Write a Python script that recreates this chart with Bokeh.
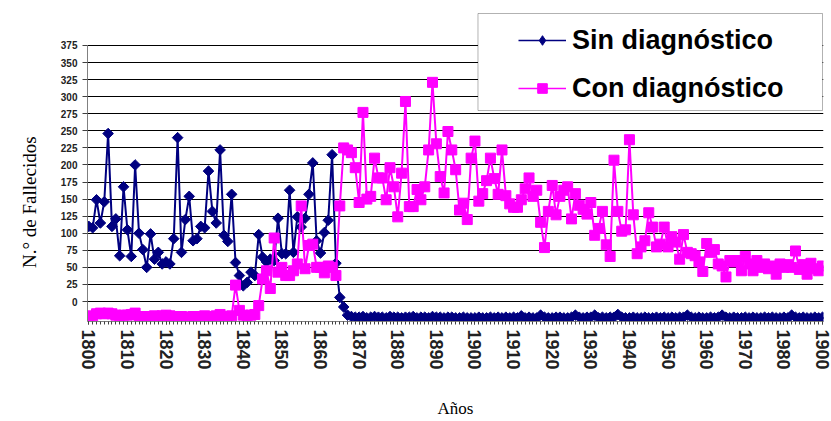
import numpy as np
from bokeh.plotting import figure
from bokeh.models import (FixedTicker, Legend, LegendItem, BoxAnnotation,
                          Range1d, Title)
from bokeh.embed import file_html
from bokeh.resources import INLINE

# ---------------- data ----------------
years = list(range(1800, 1991))

sin_diagnostico = [
    110, 108, 149, 115, 146, 246, 110, 121, 67, 168,
    105, 66, 200, 100, 76, 50, 99, 62, 72, 55,
    58, 55, 92, 240, 72, 120, 154, 89, 92, 110,
    108, 191, 132, 115, 222, 97, 88, 157, 57, 38,
    23, 28, 43, 38, 98, 65, 58, 62, 60, 122,
    70, 70, 163, 72, 124, 109, 122, 157, 203, 89,
    71, 101, 119, 215, 56, 6, -8, -20, -22, -23,
    -23, -22, -24, -23, -22, -23, -23, -24, -22, -23,
    -23, -24, -23, -23, -22, -24, -23, -23, -24, -22,
    -23, -23, -24, -23, -23, -24, -24, -23, -24, -24,
    -24, -23, -24, -24, -23, -24, -23, -24, -23, -24,
    -23, -24, -21, -24, -23, -24, -24, -20, -23, -24,
    -24, -23, -23, -24, -24, -23, -20, -23, -24, -23,
    -23, -20, -24, -23, -24, -23, -23, -19, -23, -24,
    -24, -23, -24, -24, -23, -24, -24, -23, -24, -23,
    -24, -23, -24, -23, -23, -20, -23, -24, -23, -24,
    -24, -23, -24, -23, -20, -23, -24, -23, -24, -24,
    -23, -24, -23, -24, -24, -23, -24, -23, -24, -24,
    -23, -24, -20, -23, -24, -23, -24, -24, -23, -24,
    -23,
]

con_diagnostico = [
    -22, -21, -18, -17, -18, -17, -18, -20, -21, -20,
    -20, -19, -17, -22, -23, -22, -22, -21, -22, -21,
    -20, -21, -22, -22, -22, -23, -23, -22, -23, -22,
    -21, -22, -22, -21, -19, -22, -22, -21, 24, -13,
    -20, -21, -20, -19, -6, 33, 45, 19, 93, 43,
    50, 38, 38, 45, 55, 140, 48, 82, 84, 50,
    50, 42, 52, 50, 38, 140, 225, 222, 218, 196,
    145, 277, 150, 154, 210, 181, 181, 149, 196, 168,
    124, 188, 293, 139, 139, 164, 149, 168, 222, 321,
    231, 183, 159, 249, 222, 193, 134, 144, 120, 210,
    235, 147, 158, 177, 210, 180, 157, 222, 155, 143,
    138, 138, 149, 165, 181, 154, 163, 116, 79, 132,
    170, 127, 154, 163, 168, 121, 158, 141, 135, 128,
    145, 97, 107, 132, 83, 66, 207, 132, 103, 105,
    237, 127, 70, 80, 89, 130, 109, 80, 84, 109,
    80, 95, 87, 62, 98, 72, 70, 67, 58, 44,
    85, 72, 76, 55, 52, 36, 60, 58, 60, 45,
    66, 55, 45, 60, 50, 55, 48, 52, 40, 55,
    50, 54, 50, 74, 47, 54, 40, 56, 48, 45,
    52,
]

x_ticks = list(range(1800, 1991, 10))
x_tick_labels = ["1800", "1810", "1820", "1830", "1840", "1850", "1860",
                 "1870", "1880", "1890", "1900", "1910", "1920", "1930",
                 "1940", "1950", "1960", "1970", "1980", "1900"]
y_ticks = list(range(0, 376, 25))

series_names = ["Sin diagnóstico", "Con diagnóstico"]
y_title = "N.° de Fallecidos"
x_title = "Años"

assert len(sin_diagnostico) == len(years) == len(con_diagnostico)

# ---------------- layout (pixels of the picture) ----------------
W, H = 831, 421
FRAME_L, FRAME_R, FRAME_T, FRAME_B = 86, 823, 8, 321
PX_PER_YEAR = 3.867
FIRST_PX = 87.3
PX_PER_UNIT = 0.6827
ZERO_PY = 301

x_start = 1800 - (FIRST_PX - FRAME_L) / PX_PER_YEAR
x_end = 1800 + (FRAME_R - FIRST_PX) / PX_PER_YEAR
y_end = (ZERO_PY - FRAME_T) / PX_PER_UNIT
y_start = (ZERO_PY - FRAME_B) / PX_PER_UNIT


def px2x(px):
    return x_start + (px - FRAME_L) / (FRAME_R - FRAME_L) * (x_end - x_start)


def py2y(py):
    return y_end - (py - FRAME_T) / (FRAME_B - FRAME_T) * (y_end - y_start)


p = figure(width=W, height=H, output_backend="svg", toolbar_location=None,
           title=None,
           x_range=Range1d(x_start, x_end), y_range=Range1d(y_start, y_end),
           min_border_left=FRAME_L, min_border_right=W - FRAME_R,
           min_border_top=FRAME_T, min_border_bottom=H - FRAME_B)
p.outline_line_color = None
p.background_fill_color = "white"
p.border_fill_color = "white"

# grid
p.xgrid.visible = False
p.ygrid.ticker = FixedTicker(ticks=y_ticks)
p.ygrid.grid_line_color = "black"
p.ygrid.grid_line_width = 1

# y axis
yax = p.yaxis[0]
yax.ticker = FixedTicker(ticks=y_ticks)
yax.bounds = (y_start, y_ticks[-1])
yax.axis_line_color = "#808080"
yax.major_tick_line_color = "#404040"
yax.major_tick_out = 5
yax.major_tick_in = 0
yax.minor_tick_line_color = None
yax.major_label_standoff = 5
yax.major_label_text_font = "Liberation Sans"
yax.major_label_text_font_style = "bold"
yax.major_label_text_font_size = "10px"
yax.major_label_text_color = "#222222"

# y title: starts 53.5 px above the frame bottom and reads upwards
p.add_layout(Title(text=y_title, align="left", offset=53.5,
                   vertical_align="middle", standoff=34,
                   text_font="Liberation Serif", text_font_size="19px",
                   text_font_style="normal", text_color="black"), "left")

# x axis
xax = p.xaxis[0]
xax.ticker = FixedTicker(ticks=x_ticks, minor_ticks=years)
xax.major_label_overrides = {t: l for t, l in zip(x_ticks, x_tick_labels)}
xax.major_label_orientation = "vertical"
xax.axis_line_color = "#808080"
xax.major_tick_line_color = "#404040"
xax.minor_tick_line_color = "#404040"
xax.major_tick_out = 3
xax.major_tick_in = 0
xax.minor_tick_out = 3
xax.minor_tick_in = 0
xax.major_label_standoff = 5
xax.major_label_text_font = "Liberation Sans"
xax.major_label_text_font_style = "bold"
xax.major_label_text_font_size = "18px"
xax.major_label_text_color = "#222222"
xax.axis_label = x_title
xax.axis_label_standoff = 26
xax.axis_label_text_font = "Liberation Serif"
xax.axis_label_text_font_size = "17px"
xax.axis_label_text_font_style = "normal"
xax.axis_label_text_color = "black"

# series
navy = "#000080"
magenta = "#FF00FF"
l1 = p.line(years, sin_diagnostico, line_color=navy, line_width=2)
s1 = p.scatter(years, sin_diagnostico, marker="square", angle=np.pi / 4,
               size=7.5, fill_color=navy, line_color=navy)
l2 = p.line(years, con_diagnostico, line_color=magenta, line_width=2)
s2 = p.scatter(years, con_diagnostico, marker="square", size=10,
               fill_color=magenta, line_color=magenta)

# hidden renderers that only supply the legend's line and marker shapes
k1l = p.line(years, sin_diagnostico, line_color=navy, line_width=1.5,
             visible=False)
k1m = p.scatter(years, sin_diagnostico, marker="diamond", fill_color=navy,
                line_color=navy, visible=False)
k2l = p.line(years, con_diagnostico, line_color=magenta, line_width=1.5,
             visible=False)
k2m = p.scatter(years, con_diagnostico, marker="square", fill_color=magenta,
                line_color=magenta, visible=False)

# legend frame
box = BoxAnnotation(left=px2x(477), right=px2x(822), top=py2y(13),
                    bottom=py2y(110), fill_color="white", fill_alpha=1,
                    line_color="black", line_width=1)
p.add_layout(box)

legend = Legend(items=[LegendItem(label=series_names[0], renderers=[k1l, k1m]),
                       LegendItem(label=series_names[1], renderers=[k2l, k2m])],
                location=(517 - FRAME_L, FRAME_B - 108),
                padding=0, spacing=8, label_height=40, glyph_height=24,
                glyph_width=48, label_standoff=6,
                label_text_font="Liberation Sans",
                label_text_font_style="bold",
                label_text_font_size="27px", label_text_color="black",
                border_line_color=None, background_fill_alpha=0,
                click_policy="none")
p.add_layout(legend)

open("out.html", "w").write(file_html(p, INLINE))
